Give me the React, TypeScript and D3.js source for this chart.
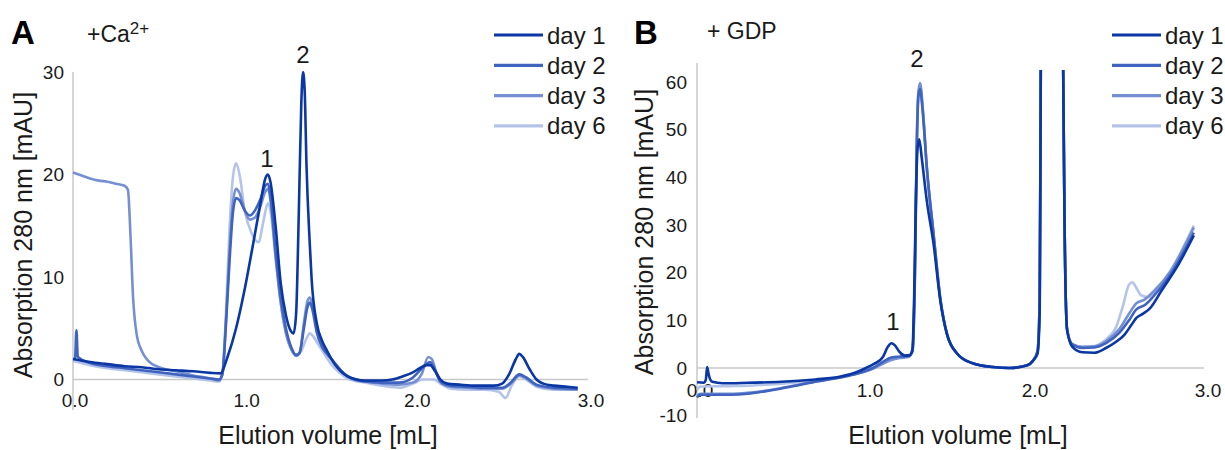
import React from "react";
import * as d3 from "d3";

type Pt = [number, number];

const seriesNames = ["day 1", "day 2", "day 3", "day 6"];
const seriesColors = ["#0a37a3", "#3f63bf", "#7590d2", "#b4c3e8"];
const xTickLabels = ["0.0", "1.0", "2.0", "3.0"];
const yTicksA = [0, 10, 20, 30];
const yTicksB = [-10, 0, 10, 20, 30, 40, 50, 60];

// Panel A (+Ca2+) : [elution volume mL, absorbance mAU]
const a_day1: Pt[] = [
  [0, 2.0], [0.1, 1.7], [0.2, 1.5], [0.3, 1.3], [0.4, 1.2], [0.5, 1.0], [0.6, 0.9], [0.7, 0.8],
  [0.8, 0.65], [0.86, 0.6], [0.9, 2.2], [0.95, 5.0], [1.0, 8.8], [1.05, 13.3], [1.09, 17.0],
  [1.12, 19.6], [1.135, 20.0], [1.15, 19.3], [1.18, 15], [1.21, 9.4], [1.24, 6.3], [1.27, 4.7],
  [1.285, 4.5], [1.30, 6.5], [1.315, 16], [1.33, 27], [1.34, 30], [1.35, 28], [1.36, 21],
  [1.38, 13], [1.39, 9.8], [1.42, 5.5], [1.45, 3.8], [1.48, 2.8], [1.52, 1.6], [1.56, 0.8],
  [1.6, 0.3], [1.65, 0], [1.7, -0.1], [1.8, -0.1], [1.86, 0], [1.92, 0.3], [1.98, 0.7],
  [2.02, 1.1], [2.06, 1.4], [2.08, 1.4], [2.11, 0.8], [2.14, 0], [2.18, -0.4], [2.25, -0.5],
  [2.35, -0.6], [2.45, -0.6], [2.5, -0.4], [2.54, 0.5], [2.58, 2.0], [2.6, 2.5], [2.62, 2.2],
  [2.66, 1.0], [2.7, 0.0], [2.74, -0.4], [2.8, -0.6], [2.88, -0.7], [2.94, -0.8],
];
const a_day2: Pt[] = [
  [0, 2.0], [0.012, 2.0], [0.02, 4.8], [0.028, 2.2], [0.1, 1.6], [0.2, 1.3], [0.3, 1.1],
  [0.4, 0.9], [0.5, 0.7], [0.6, 0.5], [0.7, 0.3], [0.8, 0.1], [0.85, 0.0], [0.87, 0.5],
  [0.89, 5], [0.91, 11], [0.93, 16], [0.95, 17.7], [0.97, 17.5], [1.0, 16.5], [1.03, 16.0],
  [1.06, 16.5], [1.09, 17.5], [1.12, 18.9], [1.135, 19.1], [1.15, 18], [1.18, 12.5], [1.21, 8],
  [1.24, 5], [1.27, 3.2], [1.30, 2.4], [1.32, 2.6], [1.345, 5], [1.365, 7.0], [1.38, 7.5],
  [1.395, 6.8], [1.42, 4.6], [1.45, 3.2], [1.48, 2.5], [1.52, 1.7], [1.56, 0.9], [1.6, 0.3],
  [1.65, 0.0], [1.7, -0.2], [1.8, -0.3], [1.9, -0.3], [1.98, 0.2], [2.04, 1.2], [2.08, 1.7],
  [2.11, 0.9], [2.14, -0.2], [2.2, -0.6], [2.3, -0.7], [2.4, -0.8], [2.5, -0.8], [2.55, -0.3],
  [2.6, 0.5], [2.64, 0.2], [2.7, -0.5], [2.8, -0.8], [2.94, -0.9],
];
const a_day3: Pt[] = [
  [0, 20.2], [0.05, 19.9], [0.1, 19.6], [0.15, 19.4], [0.2, 19.3], [0.25, 19.1], [0.3, 18.9],
  [0.32, 18.5], [0.335, 14], [0.35, 8], [0.37, 4.5], [0.4, 2.8], [0.44, 1.8], [0.5, 1.2],
  [0.6, 0.8], [0.7, 0.4], [0.8, 0.1], [0.85, -0.1], [0.87, 0.5], [0.89, 5.5], [0.91, 12],
  [0.93, 17], [0.95, 18.6], [0.97, 18.2], [1.0, 16.5], [1.03, 15.6], [1.06, 15.8], [1.09, 16.8],
  [1.12, 18.3], [1.135, 18.6], [1.15, 17.5], [1.18, 12], [1.21, 7.5], [1.24, 4.6], [1.27, 3.0],
  [1.30, 2.3], [1.32, 2.6], [1.345, 5.5], [1.365, 7.6], [1.38, 8.0], [1.395, 7.2], [1.42, 4.8],
  [1.45, 3.3], [1.48, 2.5], [1.52, 1.7], [1.56, 0.9], [1.6, 0.3], [1.65, -0.1], [1.7, -0.2],
  [1.8, -0.4], [1.9, -0.5], [1.98, -0.3], [2.03, 0.5], [2.07, 2.2], [2.09, 2.0], [2.12, 0.5],
  [2.15, -0.4], [2.2, -0.7], [2.3, -0.8], [2.4, -0.9], [2.5, -0.9], [2.55, -0.4], [2.6, 0.4],
  [2.64, 0.1], [2.7, -0.6], [2.8, -0.9], [2.94, -1.0],
];
const a_day6: Pt[] = [
  [0, 1.8], [0.1, 1.4], [0.2, 1.1], [0.3, 0.9], [0.4, 0.7], [0.5, 0.5], [0.6, 0.3], [0.7, 0.1],
  [0.8, -0.1], [0.85, -0.2], [0.87, 0.5], [0.89, 6], [0.91, 14], [0.93, 19.5], [0.95, 21.1],
  [0.97, 20], [1.0, 16.5], [1.04, 14.3], [1.08, 13.4], [1.11, 15.5], [1.135, 17.2], [1.15, 16.5],
  [1.18, 12], [1.21, 7.5], [1.24, 4.5], [1.27, 3.0], [1.30, 2.4], [1.33, 2.8], [1.36, 4.0],
  [1.38, 4.5], [1.40, 4.2], [1.43, 3.4], [1.46, 2.6], [1.5, 1.6], [1.55, 0.7], [1.6, 0.1],
  [1.7, -0.3], [1.8, -0.6], [1.9, -0.8], [1.98, -0.4], [2.04, 0.0], [2.1, 0.0], [2.15, -0.5],
  [2.2, -0.9], [2.3, -1.0], [2.4, -1.0], [2.48, -1.2], [2.52, -1.8], [2.555, -0.6], [2.6, 0.3],
  [2.64, 0.0], [2.7, -0.7], [2.8, -1.0], [2.94, -1.0],
];

// Panel B (+ GDP)
const b_day1: Pt[] = [
  [0, -3.0], [0.04, -3.1], [0.052, -2.5], [0.06, 0.2], [0.07, -1.5], [0.09, -2.9], [0.15, -3.2],
  [0.3, -3.1], [0.5, -2.9], [0.7, -2.4], [0.85, -1.8], [0.95, -0.8], [1.0, 0.0], [1.05, 0.9],
  [1.1, 2.3], [1.13, 4.5], [1.15, 5.2], [1.17, 4.8], [1.2, 3.3], [1.23, 2.6], [1.26, 2.7],
  [1.275, 4], [1.285, 15], [1.295, 35], [1.305, 46], [1.315, 48], [1.33, 44], [1.36, 35],
  [1.40, 26], [1.44, 14], [1.48, 7], [1.54, 3], [1.63, 1], [1.75, 0.2], [1.85, 0.0], [1.95, 0.5],
  [1.99, 1.6], [2.015, 3], [2.028, 12], [2.035, 70], [2.06, 150], [2.1, 200], [2.14, 150],
  [2.165, 70], [2.175, 30], [2.19, 8], [2.22, 4.5], [2.28, 3.3], [2.35, 3.2], [2.42, 4.2],
  [2.48, 5.5], [2.53, 7.0], [2.57, 9.0], [2.6, 10.5], [2.64, 11.4], [2.68, 12.5], [2.75, 16.3],
  [2.85, 21.8], [2.94, 27.8],
];
const b_day2: Pt[] = [
  [0, -6.2], [0.02, -5.6], [0.2, -5.6], [0.3, -5.4], [0.4, -4.9], [0.5, -4.3], [0.6, -3.6],
  [0.7, -2.9], [0.8, -2.3], [0.9, -1.6], [1.0, -0.6], [1.05, 0.2], [1.1, 1.3], [1.15, 2.2],
  [1.2, 2.4], [1.25, 2.5], [1.275, 3.5], [1.29, 20], [1.30, 45], [1.31, 57], [1.32, 58.5],
  [1.335, 54], [1.36, 42], [1.40, 28], [1.44, 14.5], [1.48, 7], [1.54, 3], [1.63, 1],
  [1.75, 0.2], [1.85, 0.0], [1.95, 0.5], [1.99, 1.6], [2.015, 3.5], [2.028, 15], [2.035, 70],
  [2.06, 150], [2.1, 200], [2.14, 150], [2.165, 70], [2.175, 30], [2.19, 8], [2.22, 5],
  [2.28, 4.2], [2.35, 4.3], [2.42, 5.2], [2.5, 7.4], [2.56, 10.2], [2.6, 12.3], [2.65, 13.2],
  [2.7, 15], [2.8, 19.5], [2.94, 28.4],
];
const b_day3: Pt[] = [
  [0, -5.8], [0.02, -5.4], [0.2, -5.4], [0.3, -5.2], [0.4, -4.8], [0.5, -4.2], [0.6, -3.5],
  [0.7, -2.8], [0.8, -2.2], [0.9, -1.5], [1.0, -0.7], [1.05, 0.0], [1.1, 0.9], [1.15, 1.7],
  [1.2, 2.1], [1.25, 2.3], [1.275, 3.5], [1.29, 22], [1.30, 47], [1.31, 58], [1.32, 59.8],
  [1.335, 55], [1.36, 42], [1.40, 28], [1.44, 14.5], [1.48, 7], [1.54, 3], [1.63, 1],
  [1.75, 0.2], [1.85, 0.0], [1.95, 0.5], [1.99, 1.6], [2.015, 3.5], [2.028, 15], [2.035, 70],
  [2.06, 150], [2.1, 200], [2.14, 150], [2.165, 70], [2.175, 30], [2.19, 8], [2.22, 5],
  [2.28, 4.4], [2.35, 4.5], [2.42, 5.6], [2.5, 8.2], [2.56, 11.6], [2.6, 13.6], [2.65, 14.4],
  [2.7, 16], [2.8, 20.2], [2.94, 29.5],
];
const b_day6: Pt[] = [
  [0, -4.6], [0.02, -3.9], [0.2, -3.8], [0.3, -3.7], [0.4, -3.5], [0.5, -3.3], [0.6, -3.0],
  [0.7, -2.7], [0.8, -2.2], [0.9, -1.6], [1.0, -0.6], [1.05, 0.1], [1.1, 1.0], [1.15, 1.9],
  [1.2, 2.2], [1.25, 2.4], [1.275, 3.5], [1.29, 21], [1.30, 46], [1.31, 57], [1.32, 59],
  [1.335, 54.5], [1.36, 42], [1.40, 28], [1.44, 14.5], [1.48, 7], [1.54, 3], [1.63, 1],
  [1.75, 0.2], [1.85, 0.0], [1.95, 0.5], [1.99, 1.6], [2.015, 3.5], [2.028, 15], [2.035, 70],
  [2.06, 150], [2.1, 200], [2.14, 150], [2.165, 70], [2.175, 30], [2.19, 8], [2.22, 5],
  [2.28, 4.5], [2.35, 4.6], [2.42, 6.0], [2.48, 8.6], [2.52, 13], [2.555, 17.4], [2.575, 18],
  [2.6, 16.8], [2.63, 15.2], [2.67, 14.9], [2.72, 16.5], [2.8, 20.3], [2.94, 29.9],
];

const seriesA = [a_day1, a_day2, a_day3, a_day6];
const seriesB = [b_day1, b_day2, b_day3, b_day6];

const FONT = "'Liberation Sans', Arial, sans-serif";
const AXIS_GRAY = "#c8c8c8";
const TEXT = "#1a1a1a";

type PanelProps = {
  id: string;
  letter: string;
  letterX: number;
  title: React.ReactNode;
  series: Pt[][];
  x: d3.ScaleLinear<number, number>;
  y: d3.ScaleLinear<number, number>;
  yTicks: number[];
  yLineTop: number;
  yLineBottom: number;
  xLabelY: number;
  xLabelOffset: number[];
  yLabelX: number;
  yTitleX: number;
  yTitleY: number;
  xTitleX: number;
  clipTop: number;
  legendX: number;
  peaks: { label: string; x: number; y: number }[];
};

function Panel(p: PanelProps) {
  const line = d3
    .line<Pt>()
    .x((d) => p.x(d[0]))
    .y((d) => p.y(d[1]))
    .curve(d3.curveMonotoneX);
  const [x0, x1] = p.x.range();
  const order = [3, 2, 1, 0];
  return (
    <g>
      <defs>
        <clipPath id={`clip-${p.id}`}>
          <rect x={x0 - 2} y={p.clipTop} width={x1 - x0 + 10} height={p.yLineBottom - p.clipTop + 5} />
        </clipPath>
      </defs>
      <line x1={x0} x2={x0} y1={p.yLineTop} y2={p.yLineBottom} stroke={AXIS_GRAY} strokeWidth={1.5} />
      <line x1={x0} x2={x1} y1={p.y(0)} y2={p.y(0)} stroke={AXIS_GRAY} strokeWidth={1.5} />
      {p.yTicks.map((t) => (
        <text key={t} x={p.yLabelX} y={p.y(t)} dy="0.35em" textAnchor="end" fontSize={19} fontFamily={FONT} fill={TEXT}>
          {t}
        </text>
      ))}
      {xTickLabels.map((t, i) => (
        <text key={t} x={p.x(+t) + p.xLabelOffset[i]} y={p.xLabelY} dy="0.35em" textAnchor="middle" fontSize={19} fontFamily={FONT} fill={TEXT}>
          {t}
        </text>
      ))}
      <g clipPath={`url(#clip-${p.id})`}>
        {order.map((i) => (
          <path key={i} d={line(p.series[i]) || ""} fill="none" stroke={seriesColors[i]} strokeWidth={2.6} strokeLinejoin="round" />
        ))}
      </g>
      {p.peaks.map((pk) => (
        <text key={pk.label} x={pk.x} y={pk.y} textAnchor="middle" fontSize={24} fontFamily={FONT} fill={TEXT}>
          {pk.label}
        </text>
      ))}
      <text x={p.xTitleX} y={444} textAnchor="middle" fontSize={25} fontFamily={FONT} fill={TEXT}>
        Elution volume [mL]
      </text>
      <text
        transform={`translate(${p.yTitleX},${p.yTitleY}) rotate(-90)`}
        textAnchor="middle"
        fontSize={25}
        fontFamily={FONT}
        fill={TEXT}
      >
        Absorption 280 nm [mAU]
      </text>
      <text x={p.letterX} y={44} fontSize={33} fontWeight="bold" fontFamily={FONT} fill="#000">
        {p.letter}
      </text>
      {p.title}
      {seriesNames.map((n, i) => {
        const cy = 35 + i * 30.3;
        return (
          <g key={n}>
            <line x1={p.legendX} x2={p.legendX + 49} y1={cy} y2={cy} stroke={seriesColors[i]} strokeWidth={3.2} />
            <text x={p.legendX + 53} y={cy + 8.5} fontSize={24} fontFamily={FONT} fill={TEXT}>
              {n}
            </text>
          </g>
        );
      })}
    </g>
  );
}

export default function App() {
  const xA = d3.scaleLinear().domain([0, 3]).range([73, 588]);
  const yA = d3.scaleLinear().domain([0, 30]).range([379.5, 72]);
  const xB = d3.scaleLinear().domain([0, 3]).range([697, 1204]);
  const yB = d3.scaleLinear().domain([0, 60]).range([368, 82]);

  return (
    <svg width={1225} height={450} style={{ position: "absolute", left: 0, top: 0, background: "#fff" }}>
      <rect width={1225} height={450} fill="#fff" />
      <Panel
        id="A"
        letter="A"
        letterX={11}
        title={
          <text x={87} y={42} fontSize={23} fontFamily={FONT} fill={TEXT}>
            +Ca
            <tspan fontSize={17} dy={-8}>2+</tspan>
          </text>
        }
        series={seriesA}
        x={xA}
        y={yA}
        yTicks={yTicksA}
        yLineTop={72}
        yLineBottom={410}
        xLabelY={400}
        xLabelOffset={[2, 2, 1, 3]}
        yLabelX={64}
        yTitleX={32}
        yTitleY={235}
        xTitleX={328}
        clipTop={60}
        legendX={494}
        peaks={[
          { label: "1", x: 267, y: 167 },
          { label: "2", x: 303, y: 63 },
        ]}
      />
      <Panel
        id="B"
        letter="B"
        letterX={634}
        title={
          <text x={707} y={39} fontSize={23} fontFamily={FONT} fill={TEXT}>
            + GDP
          </text>
        }
        series={seriesB}
        x={xB}
        y={yB}
        yTicks={yTicksB}
        yLineTop={63}
        yLineBottom={418}
        xLabelY={390}
        xLabelOffset={[3, 4, 0, 4]}
        yLabelX={687}
        yTitleX={653}
        yTitleY={232}
        xTitleX={958}
        clipTop={70}
        legendX={1112}
        peaks={[
          { label: "1", x: 893, y: 330 },
          { label: "2", x: 917, y: 67 },
        ]}
      />
    </svg>
  );
}
